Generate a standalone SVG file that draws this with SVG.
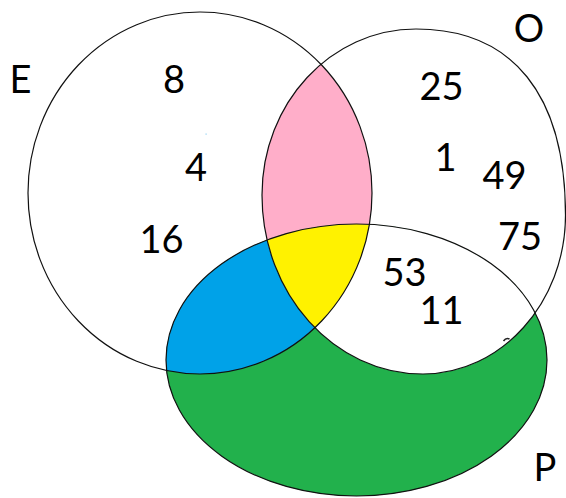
<svg xmlns="http://www.w3.org/2000/svg" xmlns:xlink="http://www.w3.org/1999/xlink" width="566" height="498" viewBox="0 0 566 498">
  <style>
    .outline { fill: none; stroke: #111; stroke-width: 1.2; }
    .lbl { font-family: Lato, "Open Sans", "Liberation Sans", sans-serif; font-size: 38px; fill: #000; text-anchor: middle; }
  </style>
  <defs>
    <ellipse id="shapeE" cx="200" cy="193" rx="172" ry="181"/>
    <path id="shapeO" d="M416,29 C513,29 565.5,95 565.5,215 C565.5,303 501,374 423,374 C334,374 262,294 262,195 C262,103 331,29 416,29 Z"/>
    <ellipse id="shapeP" cx="356.5" cy="360" rx="190.5" ry="136"/>
    <clipPath id="clipE"><use xlink:href="#shapeE"/></clipPath>
    <clipPath id="clipP"><use xlink:href="#shapeP"/></clipPath>
  </defs>
  <rect width="566" height="498" fill="#fff"/>
  <g id="regions">
    <use xlink:href="#shapeO" fill="#FFAEC9" clip-path="url(#clipE)"/>
    <use xlink:href="#shapeP" fill="#22B14C"/>
    <use xlink:href="#shapeE" fill="#00A2E8" clip-path="url(#clipP)"/>
    <use xlink:href="#shapeO" fill="#fff" clip-path="url(#clipP)"/>
    <g clip-path="url(#clipE)">
      <use xlink:href="#shapeO" fill="#FFF200" clip-path="url(#clipP)"/>
    </g>
  </g>
  <g id="set-E">
    <use xlink:href="#shapeE" class="outline"/>
    <text class="lbl" x="20.5" y="93">E</text>
  </g>
  <g id="set-O">
    <use xlink:href="#shapeO" class="outline"/>
    <text class="lbl" x="529" y="42">O</text>
  </g>
  <g id="set-P">
    <use xlink:href="#shapeP" class="outline"/>
    <text class="lbl" x="545" y="481">P</text>
  </g>
  <g id="connectors"></g>
  <g id="numbers">
    <text class="lbl" x="174" y="93">8</text>
    <text class="lbl" x="196" y="181">4</text>
    <text class="lbl" x="161.5" y="253">16</text>
    <text class="lbl" x="441.5" y="100">25</text>
    <text class="lbl" x="445.5" y="171">1</text>
    <text class="lbl" x="504.5" y="189">49</text>
    <text class="lbl" x="520" y="250">75</text>
    <text class="lbl" x="404.5" y="286">53</text>
    <text class="lbl" x="441.5" y="324">11</text>
  </g>
  <g id="marks">
    <path d="M503.5,341 Q506,337.5 509.5,339" fill="none" stroke="#222" stroke-width="1.6"/>
    <rect x="205.5" y="133.5" width="1.2" height="1.2" fill="#8fd0f2"/>
  </g>
</svg>
